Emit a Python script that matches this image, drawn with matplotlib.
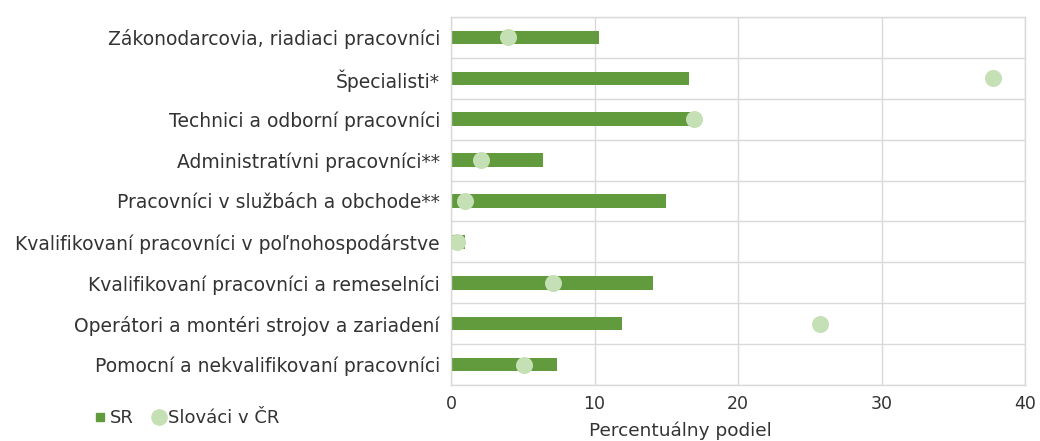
import matplotlib.pyplot as plt
from matplotlib.lines import Line2D
import numpy as np

plt.rcParams['font.family'] = ['DejaVu Sans']

# Data (top to bottom as shown)
categories = [
    "Zákonodarcovia, riadiaci pracovníci",
    "Špecialisti*",
    "Technici a odborní pracovníci",
    "Administratívni pracovníci**",
    "Pracovníci v službách a obchode**",
    "Kvalifikovaní pracovníci v poľnohospodárstve",
    "Kvalifikovaní pracovníci a remeselníci",
    "Operátori a montéri strojov a zariadení",
    "Pomocní a nekvalifikovaní pracovníci",
]
sr_values = [10.3, 16.6, 17.2, 6.4, 15.0, 1.0, 14.1, 11.9, 7.4]
cr_values = [4.0, 37.8, 16.9, 2.1, 1.0, 0.4, 7.1, 25.7, 5.1]

bar_color = '#629a3e'
dot_color = '#c5e0b4'
text_color = '#333333'
grid_color = '#d9d9d9'

fig = plt.figure(figsize=(10.4, 4.41), dpi=100)
ax = fig.add_axes([0.4337, 0.127, 0.5519, 0.8345])

y = np.arange(len(categories))
ax.barh(y, sr_values, height=0.33, color=bar_color, zorder=2)
ax.scatter(cr_values, y, s=150, color=dot_color, zorder=3, linewidths=0)

ax.set_xlim(0, 40)
ax.set_ylim(len(categories) - 0.5, -0.5)
ax.set_xticks([0, 10, 20, 30, 40])
ax.set_yticks(y)
ax.set_yticklabels(categories, fontsize=13.5, color=text_color)
ax.tick_params(axis='x', labelsize=12.5, colors=text_color, length=0, pad=7)
ax.tick_params(axis='y', length=0, pad=8)

# grid: vertical at ticks, horizontal between categories
ax.set_yticks(np.arange(-0.5, len(categories), 1), minor=True)
ax.grid(axis='x', color=grid_color, linewidth=1, zorder=0)
ax.grid(axis='y', which='minor', color=grid_color, linewidth=1, zorder=0)
ax.tick_params(axis='y', which='minor', length=0)
ax.set_axisbelow(True)
for s in ax.spines.values():
    s.set_color(grid_color)
    s.set_linewidth(1)

ax.set_xlabel("Percentuálny podiel", fontsize=13.3, color=text_color)
ax.xaxis.set_label_coords((680 - 451) / 574, -0.098)

handles = [
    Line2D([], [], marker='s', linestyle='none', color=bar_color, markersize=6),
    Line2D([], [], marker='o', linestyle='none', color=dot_color, markersize=11),
]
fig.legend(handles, ["SR", "Slováci v ČR"], loc='center left',
           bbox_to_anchor=(0.074, 0.052), ncol=2, frameon=False,
           fontsize=13, handletextpad=0.1, columnspacing=1.0,
           labelcolor=text_color, handlelength=0.8)

fig.savefig("out.png", dpi=100)
